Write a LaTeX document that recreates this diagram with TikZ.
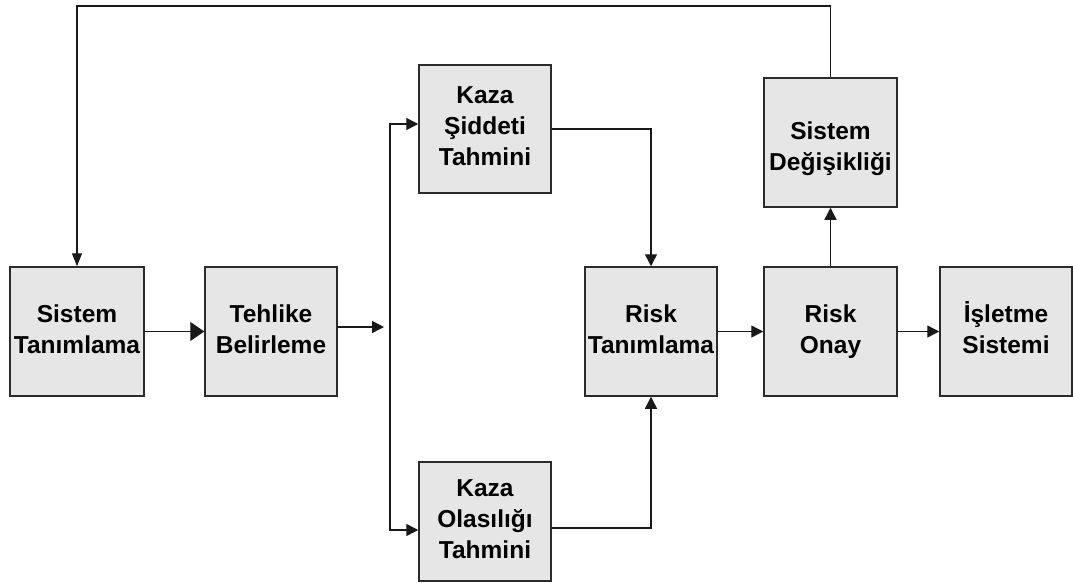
\documentclass[tikz,border=0pt]{standalone}
\usepackage{fontspec}
\setmainfont{Liberation Sans}
\usetikzlibrary{arrows.meta}
\definecolor{boxfill}{HTML}{E6E6E6}
\definecolor{boxline}{HTML}{2B2B2B}
% uniform line box so every caption sits at the same height
\newcommand\lnstrut{\rule[-0.35em]{0pt}{1.2em}}
\begin{document}
\begin{tikzpicture}[x=1pt,y=-1pt,
  stage/.style={draw=boxline, fill=boxfill, line width=1.5pt,
    minimum width=132pt, minimum height=129pt, inner sep=0pt,
    align=center, font=\fontsize{24.5}{31}\selectfont\bfseries},
  wire/.style={line width=1.4pt, draw=black!90},
  link/.style={wire, -{Triangle[length=12pt,width=12pt]}},
  biglink/.style={wire, -{Triangle[length=14pt,width=19pt]}}]
\useasboundingbox (0,0) rectangle (1073,583);

% process stages
\node[stage, minimum width=134pt] (st) at (77,331.5) {\lnstrut Sistem\\\lnstrut Tanımlama};
\node[stage] (tb) at (271,331.5) {\lnstrut Tehlike\\\lnstrut Belirleme};
\node[stage, minimum height=128pt] (ks) at (485,129)
  {\lnstrut Kaza\\\lnstrut Şiddeti\\\lnstrut Tahmini\rule[-9pt]{0pt}{0pt}};
\node[stage, minimum height=119pt] (ko) at (485,521.5)
  {\lnstrut Kaza\\\lnstrut Olasılığı\\\lnstrut Tahmini};
\node[stage] (rt) at (651,331.5) {\lnstrut Risk\\\lnstrut Tanımlama};
\node[stage, minimum width=133pt] (ro) at (830.5,331.5) {\lnstrut Risk\\\lnstrut Onay};
\node[stage] (is) at (1006,331.5) {\lnstrut İşletme\\\lnstrut Sistemi};
\node[stage, minimum width=133pt] (sd) at (830.5,142.5)
  {\lnstrut\rule{0pt}{33pt}Sistem\\\lnstrut Değişikliği};

% routing points
\coordinate (gap) at (384,327);
\coordinate (splitTop) at (390,124);
\coordinate (splitBot) at (390,530);
\coordinate (loopTop) at (0,6);

% connectors
\draw[biglink] (st.east) -- (tb.west);
\draw[link] (tb.east |- gap) -- (gap);
\draw[wire, {Triangle[length=12pt,width=12pt]}-{Triangle[length=12pt,width=12pt]}]
  (ks.west |- splitTop) -- (splitTop) -- (splitBot) -- (ko.west |- splitBot);
\draw[link] (ks.east) -| (rt.north);
\draw[link] ([yshift=-6.5pt]ko.east) -| (rt.south);
\draw[link] (rt.east) -- (ro.west);
\draw[link] (ro.east) -- (is.west);
\draw[link] (ro.north) -- (sd.south);
\draw[wire, -{Triangle[length=13pt,width=10pt]}]
  (sd.north) -- (sd.north |- loopTop) -| (st.north);
\end{tikzpicture}
\end{document}
